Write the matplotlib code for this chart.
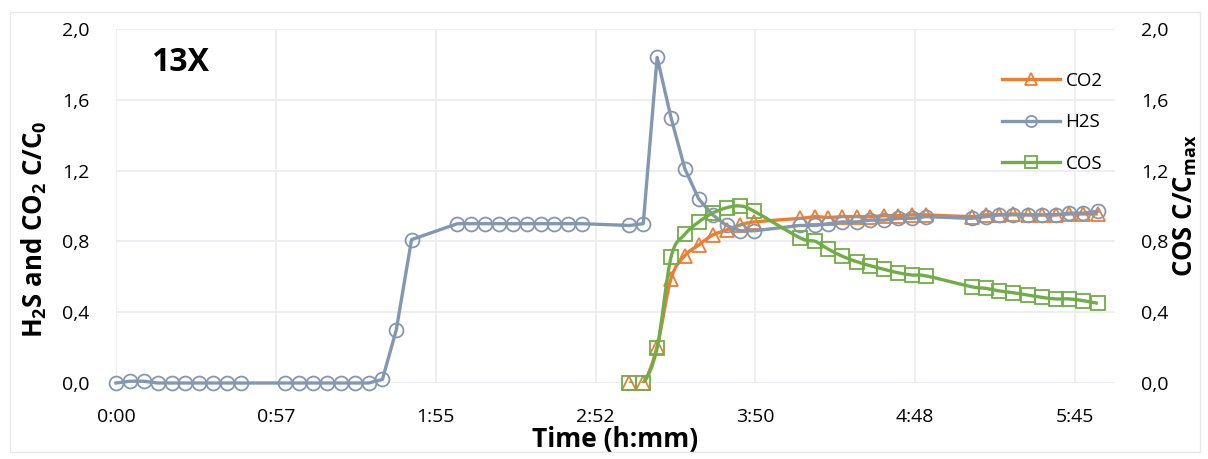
import matplotlib
matplotlib.use('Agg')
import matplotlib.pyplot as plt
from matplotlib.path import Path
from matplotlib.patches import PathPatch, Rectangle
from matplotlib.lines import Line2D
import numpy as np

# ---- data (time in minutes) ----
h2s_t = [0, 5, 10, 15, 20, 25, 30, 35, 40, 45,
         61, 66, 71, 76, 81, 86, 91,
         96, 101, 106.5,
         123, 128, 133, 138, 143, 148, 153, 158, 163, 168,
         185, 190, 195, 200, 205, 210, 215, 220, 225, 230,
         246.5, 252, 256.6, 261.6, 267, 271.7, 276.8, 281.8, 286.8, 291.9,
         308.3, 313.4, 318.3, 323.3, 328.5, 333.6, 338.6, 343.5, 348.6, 353.8]
h2s_v = [0.0, 0.01, 0.01, 0.0, 0.0, 0.0, 0.0, 0.0, 0.0, 0.0,
         0.0, 0.0, 0.0, 0.0, 0.0, 0.0, 0.0,
         0.02, 0.30, 0.81,
         0.90, 0.90, 0.90, 0.90, 0.90, 0.90, 0.90, 0.90, 0.90, 0.90,
         0.89, 0.90, 1.84, 1.50, 1.21, 1.04, 0.95, 0.89, 0.86, 0.86,
         0.89, 0.89, 0.90, 0.91, 0.91, 0.92, 0.92, 0.93, 0.93, 0.94,
         0.93, 0.94, 0.95, 0.95, 0.95, 0.95, 0.95, 0.96, 0.96, 0.97]

co2_t = [185, 190, 195, 200, 205, 210, 215, 220, 225, 230,
         246.5, 252, 256.6, 261.6, 267, 271.7, 276.8, 281.8, 286.8, 291.9,
         308.3, 313.4, 318.3, 323.3, 328.5, 333.6, 338.6, 343.5, 348.6, 353.8]
co2_v = [0.0, 0.0, 0.205, 0.59, 0.72, 0.78, 0.836, 0.864, 0.893, 0.91,
         0.93, 0.94, 0.935, 0.94, 0.94, 0.94, 0.945, 0.945, 0.95, 0.95,
         0.94, 0.95, 0.95, 0.955, 0.95, 0.95, 0.95, 0.955, 0.955, 0.955]

cos_t = co2_t
cos_v = [0.0, 0.0, 0.20, 0.71, 0.84, 0.91, 0.96, 0.99, 1.00, 0.97,
         0.82, 0.80, 0.757, 0.717, 0.685, 0.663, 0.642, 0.623, 0.61, 0.605,
         0.544, 0.535, 0.52, 0.51, 0.497, 0.484, 0.475, 0.475, 0.465, 0.45]

xtick_minutes = [0, 57.6, 115.2, 172.8, 230.4, 288.0, 345.6]
xtick_labels = ["0:00", "0:57", "1:55", "2:52", "3:50", "4:48", "5:45"]
ytick_values = [0.0, 0.4, 0.8, 1.2, 1.6, 2.0]
ytick_labels = ["0,0", "0,4", "0,8", "1,2", "1,6", "2,0"]

C_CO2 = '#ED7D31'
C_H2S = '#8497B0'
C_COS = '#70AD47'
GRID = '#ECECF1'

plt.rcParams['font.family'] = ['Open Sans', 'DejaVu Sans']
plt.rcParams['mathtext.fontset'] = 'custom'
plt.rcParams['mathtext.rm'] = 'Open Sans'
plt.rcParams['mathtext.bf'] = 'Open Sans:bold'
plt.rcParams['mathtext.it'] = 'Open Sans:italic'


def smooth_path(x, y):
    x = np.asarray(x, float)
    y = np.asarray(y, float)
    n = len(x)
    verts = [(x[0], y[0])]
    codes = [Path.MOVETO]
    for i in range(n - 1):
        xp, yp = (x[i - 1], y[i - 1]) if i > 0 else (x[i], y[i])
        xn, yn = (x[i + 2], y[i + 2]) if i + 2 < n else (x[i + 1], y[i + 1])
        c1 = (x[i] + (x[i + 1] - xp) / 6.0, y[i] + (y[i + 1] - yp) / 6.0)
        c2 = (x[i + 1] - (xn - x[i]) / 6.0, y[i + 1] - (yn - y[i]) / 6.0)
        verts += [c1, c2, (x[i + 1], y[i + 1])]
        codes += [Path.CURVE4] * 3
    return Path(verts, codes)


fig = plt.figure(figsize=(12.08, 4.59), dpi=100)
ax = fig.add_axes([116 / 1208, 1 - 383 / 459, (1115 - 116) / 1208, (383 - 29) / 459])
ax2 = ax.twinx()

lw = 2.4
ms = 10
mew = 1.3

# H2S (straight lines)
ax.plot(h2s_t, h2s_v, color=C_H2S, lw=lw, marker='o', ms=ms, mfc='none',
        mec=C_H2S, mew=mew, zorder=3, clip_on=False)
# CO2 (smoothed line)
ax.add_patch(PathPatch(smooth_path(co2_t, co2_v), fc='none', ec=C_CO2, lw=lw, zorder=2))
ax.plot(co2_t, co2_v, ls='none', marker='^', ms=ms, mfc='none', mec=C_CO2,
        mew=mew, zorder=2, clip_on=False)
# COS on secondary axis (smoothed line)
ax2.add_patch(PathPatch(smooth_path(cos_t, cos_v), fc='none', ec=C_COS, lw=lw, zorder=2))
ax2.plot(cos_t, cos_v, ls='none', marker='s', ms=ms, mfc='none', mec=C_COS,
         mew=mew, zorder=2, clip_on=False)

for a in (ax, ax2):
    a.set_xlim(0, 360)
    a.set_ylim(0, 2.0)
    for s in a.spines.values():
        s.set_visible(False)
    a.set_yticks(ytick_values)
    a.set_yticklabels(ytick_labels)
    a.tick_params(axis='y', length=0, labelsize=14, pad=19)

ax.set_xticks(xtick_minutes)
ax.set_xticklabels(xtick_labels)
ax.tick_params(axis='x', length=0, labelsize=14, pad=18)
ax.grid(True, color=GRID, lw=1.3, zorder=0)
ax.set_axisbelow(True)

ax.set_xlabel('Time (h:mm)', fontsize=19, fontweight='bold', labelpad=0)
ax.set_ylabel(r'H$_\mathbf{2}$S and CO$_\mathbf{2}$ C/C$_\mathbf{0}$',
              fontsize=18.5, fontweight='bold')
ax.yaxis.set_label_coords(-0.067, 0.435)
ax2.set_ylabel(r'COS C/C$_\mathbf{max}$', fontsize=18.5, fontweight='bold', labelpad=2)

ax.text(0.035, 0.905, '13X', transform=ax.transAxes, fontsize=23,
        fontweight='bold', ha='left', va='center')

handles = [
    Line2D([], [], color=C_CO2, lw=lw, marker='^', ms=ms * 0.8, mfc='none', mec=C_CO2, mew=mew),
    Line2D([], [], color=C_H2S, lw=lw, marker='o', ms=ms * 0.8, mfc='none', mec=C_H2S, mew=mew),
    Line2D([], [], color=C_COS, lw=lw, marker='s', ms=ms * 0.8, mfc='none', mec=C_COS, mew=mew),
]
leg = ax2.legend(handles, ['CO2', 'H2S', 'COS'], loc='upper right',
                 bbox_to_anchor=(0.995, 0.9), frameon=False, fontsize=13.5,
                 handlelength=3.1, labelspacing=1.25, handletextpad=0.3,
                 borderaxespad=0)

fig.patches.append(Rectangle((10 / 1208, 7 / 459), 1190 / 1208, 440 / 459,
                             transform=fig.transFigure, fill=False,
                             ec='#E6E6EC', lw=1.0))

fig.savefig('out.png', dpi=100)
